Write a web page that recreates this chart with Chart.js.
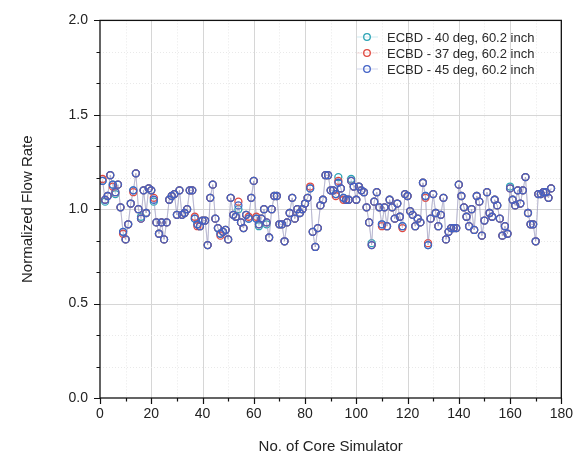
<!DOCTYPE html>
<html>
<head>
<meta charset="utf-8">
<script src="https://cdn.jsdelivr.net/npm/chart.js@4.4.1/dist/chart.umd.min.js"></script>
<style>
  html, body { margin: 0; padding: 0; background: #fff; }
  #wrap { width: 581px; height: 464px; }
</style>
</head>
<body>
<div id="wrap"><canvas id="flowChart" width="581" height="464"></canvas></div>
<script>
// Normalized flow rate per core simulator
const flow40 = [
    1.15, 1.04, 1.07, 1.18, 1.13, 1.08, 1.13, 1.01, 0.88, 0.84,
    0.92, 1.03, 1.10, 1.19, 1.00, 0.96, 1.10, 0.98, 1.11, 1.10,
    1.04, 0.93, 0.87, 0.93, 0.84, 0.93, 1.05, 1.07, 1.08, 0.97,
    1.10, 0.97, 0.98, 1.00, 1.10, 1.10, 0.95, 0.92, 0.91, 0.94,
    0.94, 0.81, 1.06, 1.13, 0.95, 0.90, 0.87, 0.88, 0.89, 0.84,
    1.06, 0.97, 0.96, 1.00, 0.93, 0.90, 0.97, 0.95, 1.06, 1.15,
    0.95, 0.91, 0.95, 1.00, 0.92, 0.85, 1.00, 1.07, 1.07, 0.92,
    0.92, 0.83, 0.93, 0.98, 1.06, 0.95, 1.00, 0.98, 1.00, 1.03,
    1.06, 1.11, 0.88, 0.80, 0.90, 1.02, 1.05, 1.18, 1.18, 1.10,
    1.10, 1.08, 1.17, 1.11, 1.06, 1.05, 1.05, 1.16, 1.12, 1.05,
    1.12, 1.10, 1.09, 1.01, 0.93, 0.82, 1.04, 1.09, 1.01, 0.92,
    1.01, 0.91, 1.05, 1.01, 0.95, 1.03, 0.96, 0.91, 1.08, 1.07,
    0.99, 0.97, 0.91, 0.95, 0.93, 1.14, 1.07, 0.81, 0.95, 1.08,
    0.98, 0.91, 0.97, 1.06, 0.84, 0.88, 0.90, 0.90, 0.90, 1.13,
    1.07, 1.01, 0.96, 0.91, 1.00, 0.89, 1.07, 1.04, 0.86, 0.94,
    1.09, 0.98, 0.96, 1.05, 1.02, 0.95, 0.86, 0.91, 0.87, 1.12,
    1.05, 1.02, 1.10, 1.03, 1.10, 1.17, 0.98, 0.92, 0.92, 0.83,
    1.08, 1.08, 1.09, 1.09, 1.06, 1.11
];
const flow37 = [
    1.16, 1.05, 1.07, 1.18, 1.12, 1.09, 1.13, 1.01, 0.87, 0.84,
    0.92, 1.03, 1.09, 1.19, 1.00, 0.95, 1.10, 0.98, 1.11, 1.10,
    1.06, 0.93, 0.87, 0.93, 0.84, 0.93, 1.05, 1.07, 1.08, 0.97,
    1.10, 0.97, 0.98, 1.00, 1.10, 1.10, 0.96, 0.91, 0.91, 0.94,
    0.94, 0.81, 1.06, 1.13, 0.95, 0.90, 0.86, 0.88, 0.89, 0.84,
    1.06, 0.97, 0.96, 1.04, 0.93, 0.90, 0.97, 0.96, 1.06, 1.15,
    0.96, 0.92, 0.95, 1.00, 0.93, 0.85, 1.00, 1.07, 1.07, 0.92,
    0.92, 0.83, 0.93, 0.98, 1.06, 0.95, 1.00, 0.98, 1.00, 1.03,
    1.06, 1.12, 0.88, 0.80, 0.90, 1.02, 1.05, 1.18, 1.18, 1.10,
    1.10, 1.07, 1.15, 1.11, 1.05, 1.05, 1.05, 1.15, 1.12, 1.05,
    1.12, 1.10, 1.09, 1.01, 0.93, 0.81, 1.04, 1.09, 1.01, 0.91,
    1.01, 0.91, 1.05, 1.01, 0.95, 1.03, 0.96, 0.90, 1.08, 1.07,
    0.99, 0.97, 0.91, 0.95, 0.93, 1.14, 1.06, 0.82, 0.95, 1.08,
    0.98, 0.91, 0.97, 1.06, 0.84, 0.88, 0.90, 0.90, 0.90, 1.13,
    1.07, 1.01, 0.96, 0.91, 1.00, 0.89, 1.07, 1.04, 0.86, 0.94,
    1.09, 0.98, 0.96, 1.05, 1.02, 0.95, 0.86, 0.91, 0.87, 1.11,
    1.05, 1.02, 1.10, 1.03, 1.10, 1.17, 0.98, 0.92, 0.92, 0.83,
    1.08, 1.08, 1.09, 1.09, 1.06, 1.11
];
const flow45 = [
    1.15, 1.05, 1.07, 1.18, 1.13, 1.09, 1.13, 1.01, 0.88, 0.84,
    0.92, 1.03, 1.10, 1.19, 1.00, 0.95, 1.10, 0.98, 1.11, 1.10,
    1.05, 0.93, 0.87, 0.93, 0.84, 0.93, 1.05, 1.07, 1.08, 0.97,
    1.10, 0.97, 0.98, 1.00, 1.10, 1.10, 0.95, 0.92, 0.91, 0.94,
    0.94, 0.81, 1.06, 1.13, 0.95, 0.90, 0.87, 0.88, 0.89, 0.84,
    1.06, 0.97, 0.96, 1.02, 0.93, 0.90, 0.97, 0.95, 1.06, 1.15,
    0.95, 0.92, 0.95, 1.00, 0.93, 0.85, 1.00, 1.07, 1.07, 0.92,
    0.92, 0.83, 0.93, 0.98, 1.06, 0.95, 1.00, 0.98, 1.00, 1.03,
    1.06, 1.11, 0.88, 0.80, 0.90, 1.02, 1.05, 1.18, 1.18, 1.10,
    1.10, 1.08, 1.14, 1.11, 1.06, 1.05, 1.05, 1.15, 1.12, 1.05,
    1.12, 1.10, 1.09, 1.01, 0.93, 0.81, 1.04, 1.09, 1.01, 0.92,
    1.01, 0.91, 1.05, 1.01, 0.95, 1.03, 0.96, 0.91, 1.08, 1.07,
    0.99, 0.97, 0.91, 0.95, 0.93, 1.14, 1.07, 0.81, 0.95, 1.08,
    0.98, 0.91, 0.97, 1.06, 0.84, 0.88, 0.90, 0.90, 0.90, 1.13,
    1.07, 1.01, 0.96, 0.91, 1.00, 0.89, 1.07, 1.04, 0.86, 0.94,
    1.09, 0.98, 0.96, 1.05, 1.02, 0.95, 0.86, 0.91, 0.87, 1.11,
    1.05, 1.02, 1.10, 1.03, 1.10, 1.17, 0.98, 0.92, 0.92, 0.83,
    1.08, 1.08, 1.09, 1.09, 1.06, 1.11
];
const seriesLabels = ['ECBD - 40 deg, 60.2 inch', 'ECBD - 37 deg, 60.2 inch', 'ECBD - 45 deg, 60.2 inch'];
const xTicks = [0, 20, 40, 60, 80, 100, 120, 140, 160, 180];
const yTicks = [0.0, 0.5, 1.0, 1.5, 2.0];

const FONT = "'Liberation Sans', Arial, sans-serif";
const colors = ['#2ba3b4', '#e0483f', '#4262c6'];
const lineColors = ['rgba(120,200,215,0.45)', 'rgba(230,150,150,0.45)', 'rgba(140,150,210,0.5)'];

const toPoints = (arr) => arr.map((v, i) => ({ x: i + 1, y: v }));

const makeDataset = (arr, idx, order) => ({
    label: seriesLabels[idx],
    data: toPoints(arr),
    showLine: true,
    borderColor: lineColors[idx],
    borderWidth: 0.8,
    pointStyle: 'circle',
    pointRadius: 3.5,
    pointBorderWidth: 1.3,
    pointBorderColor: colors[idx],
    pointBackgroundColor: 'rgba(255,255,255,0)',
    order: order,
});

// major grid solid, minor grid dotted (x minor every 10, y minor every 0.5/3)
const gridPlugin = {
    id: 'grid',
    beforeDatasetsDraw(chart) {
        const { ctx, chartArea: a, scales: { x, y } } = chart;
        ctx.save();
        ctx.lineWidth = 1;
        for (let v = 10; v < 180; v += 10) {
            const px = Math.round(x.getPixelForValue(v)) + 0.5;
            const major = v % 20 === 0;
            ctx.strokeStyle = major ? '#d6d6d6' : '#e9e9e9';
            ctx.setLineDash(major ? [] : [1, 2]);
            ctx.beginPath();
            ctx.moveTo(px, a.top);
            ctx.lineTo(px, a.bottom);
            ctx.stroke();
        }
        for (let k = 1; k < 12; k++) {
            const py = Math.round(y.getPixelForValue(k / 6)) + 0.5;
            const major = k % 3 === 0;
            ctx.strokeStyle = major ? '#d6d6d6' : '#e9e9e9';
            ctx.setLineDash(major ? [] : [1, 2]);
            ctx.beginPath();
            ctx.moveTo(a.left, py);
            ctx.lineTo(a.right, py);
            ctx.stroke();
        }
        ctx.restore();
    },
};

// frame, outward ticks and the in-plot legend
const framePlugin = {
    id: 'frame',
    afterDraw(chart) {
        const { ctx, chartArea: a, scales: { x, y } } = chart;
        ctx.save();
        ctx.strokeStyle = '#111';
        ctx.lineWidth = 1.3;
        ctx.strokeRect(a.left, a.top, a.right - a.left, a.bottom - a.top);

        ctx.lineWidth = 1.2;
        ctx.beginPath();
        for (let v = 0; v <= 180; v += 10) {
            const px = Math.round(x.getPixelForValue(v)) + 0.5;
            const len = v % 20 === 0 ? 6 : 3.5;
            ctx.moveTo(px, a.bottom);
            ctx.lineTo(px, a.bottom + len);
        }
        for (let k = 0; k <= 12; k++) {
            const py = Math.round(y.getPixelForValue(k / 6)) + 0.5;
            ctx.moveTo(a.left, py);
            ctx.lineTo(a.left - (k % 3 === 0 ? 6 : 3.5), py);
        }
        ctx.stroke();

        // legend
        ctx.font = '13px ' + FONT;
        ctx.textBaseline = 'middle';
        ctx.textAlign = 'left';
        seriesLabels.forEach((label, i) => {
            const ly = 37 + i * 16;
            ctx.strokeStyle = lineColors[i];
            ctx.lineWidth = 0.8;
            ctx.beginPath();
            ctx.moveTo(357, ly);
            ctx.lineTo(378, ly);
            ctx.stroke();
            ctx.strokeStyle = colors[i];
            ctx.lineWidth = 1.3;
            ctx.beginPath();
            ctx.arc(367, ly, 3.3, 0, Math.PI * 2);
            ctx.stroke();
            ctx.fillStyle = '#2a2a2a';
            ctx.fillText(label, 387, ly + 1);
        });
        ctx.restore();
    },
};

const ctx = document.getElementById('flowChart').getContext('2d');
const chart = new Chart(ctx, {
    type: 'scatter',
    data: {
        datasets: [
            makeDataset(flow40, 0, 2),
            makeDataset(flow37, 1, 1),
            makeDataset(flow45, 2, 0),
        ],
    },
    options: {
        responsive: false,
        animation: false,
        devicePixelRatio: 1,
        layout: { padding: { top: 18, right: 19, left: 0, bottom: 0 } },
        plugins: {
            legend: { display: false },
            tooltip: { enabled: false },
        },
        scales: {
            x: {
                type: 'linear',
                min: 0,
                max: 180,
                border: { display: false },
                grid: { display: false, drawTicks: false },
                ticks: {
                    stepSize: 20,
                    autoSkip: false,
                    maxRotation: 0,
                    padding: 8,
                    color: '#222',
                    font: { family: FONT, size: 14 },
                },
                title: {
                    display: true,
                    text: 'No. of Core Simulator',
                    color: '#222',
                    font: { family: FONT, size: 15 },
                    padding: { top: 0, bottom: 8 },
                },
                afterFit: (s) => { s.height = 66; },
            },
            y: {
                type: 'linear',
                min: 0,
                max: 2,
                border: { display: false },
                grid: { display: false, drawTicks: false },
                ticks: {
                    stepSize: 0.5,
                    autoSkip: false,
                    padding: 12,
                    color: '#222',
                    font: { family: FONT, size: 14 },
                    callback: (v) => v.toFixed(1),
                },
                title: {
                    display: true,
                    text: 'Normalized Flow Rate',
                    color: '#222',
                    font: { family: FONT, size: 15 },
                    padding: { top: 19, bottom: 0 },
                },
                afterFit: (s) => { s.width = 100; },
            },
        },
    },
    plugins: [gridPlugin, framePlugin],
});
</script>
</body>
</html>
